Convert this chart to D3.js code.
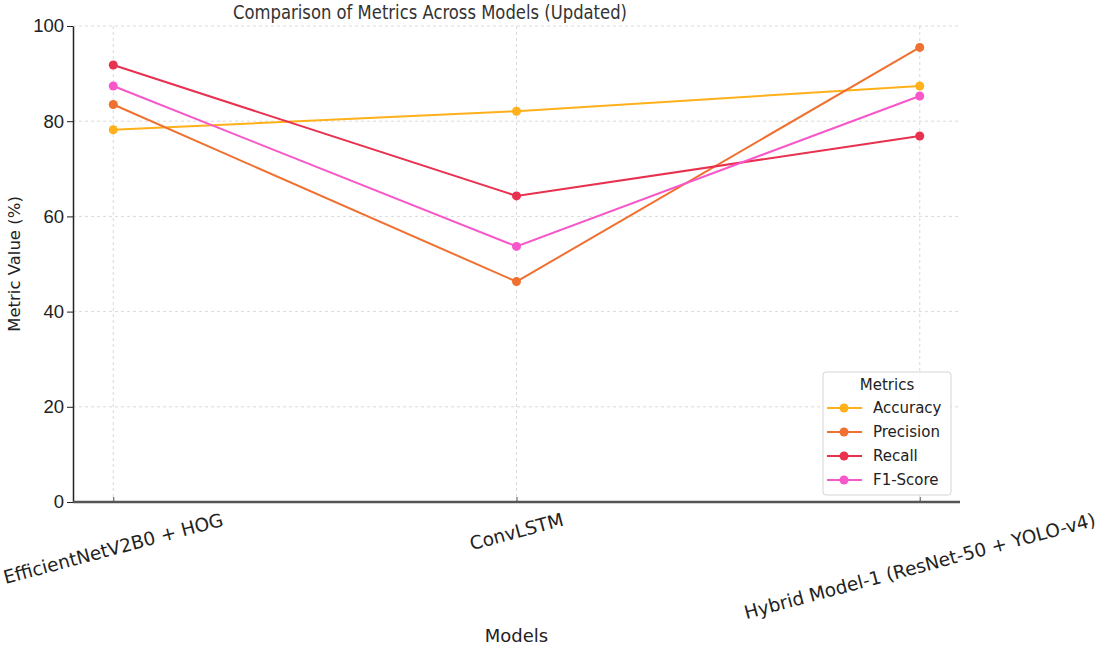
<!DOCTYPE html>
<html>
<head>
<meta charset="utf-8">
<title>Comparison of Metrics Across Models</title>
<script src="https://d3js.org/d3.v7.min.js"></script>
<style>
    body { margin: 0; background: #fff; }
    svg { display: block; font-family: "DejaVu Sans", sans-serif; }
    .grid line { stroke: #d0d0d0; stroke-dasharray: 3,3; stroke-width: 0.8; }
    .tick-label { fill: #222; }
</style>
</head>
<body>
<div id="chart"></div>
<script>
// data
const models = ['EfficientNetV2B0 + HOG', 'ConvLSTM', 'Hybrid Model-1 (ResNet-50 + YOLO-v4)'];
const metrics = ['Accuracy', 'Precision', 'Recall', 'F1-Score'];
const accuracy = [78.2, 82.1, 87.4];
const precision = [83.5, 46.3, 95.5];
const recall = [91.8, 64.3, 76.9];
const f1Score = [87.4, 53.7, 85.3];
const yTicks = [0, 20, 40, 60, 80, 100];
const colors = ['#ffb01a', '#f07030', '#e8304f', '#f757c8'];

const seriesValues = [accuracy, precision, recall, f1Score];

const width = 1099, height = 645;
const margin = { left: 73, right: 139, top: 26, bottom: 143 };
const plotW = width - margin.left - margin.right;
const plotH = height - margin.top - margin.bottom;

const svg = d3.select('#chart').append('svg')
    .attr('width', width)
    .attr('height', height);

// point scale with matplotlib-like 5% margins
const x = d3.scalePoint()
    .domain(models)
    .range([margin.left + plotW * 0.0454, margin.left + plotW * (1 - 0.0454)]);

const y = d3.scaleLinear()
    .domain([0, 100])
    .range([margin.top + plotH, margin.top]);

// grid
const grid = svg.append('g').attr('class', 'grid');
grid.selectAll('.hg').data(yTicks).enter().append('line')
    .attr('x1', margin.left).attr('x2', margin.left + plotW)
    .attr('y1', d => y(d)).attr('y2', d => y(d));
grid.selectAll('.vg').data(models).enter().append('line')
    .attr('x1', d => x(d)).attr('x2', d => x(d))
    .attr('y1', margin.top).attr('y2', margin.top + plotH);

// y axis
const yAxis = svg.append('g')
    .attr('transform', `translate(${margin.left},0)`)
    .call(d3.axisLeft(y).tickValues(yTicks).tickSize(6).tickPadding(3).tickSizeOuter(0));
yAxis.select('.domain').attr('stroke', '#222').attr('stroke-width', 1.5);
yAxis.selectAll('.tick line').attr('stroke', '#222');
yAxis.selectAll('.tick text').attr('class', 'tick-label').style('font-size', '18.5px')
    .attr('font-family', null);

// x axis
const xAxis = svg.append('g')
    .attr('transform', `translate(0,${margin.top + plotH})`)
    .call(d3.axisBottom(x).tickSize(-5).tickSizeOuter(0).tickFormat(''));
xAxis.select('.domain').attr('stroke', '#555').attr('stroke-width', 2.5)
    .attr('d', `M${margin.left},0H${margin.left + plotW}`);
xAxis.selectAll('.tick line').attr('stroke', '#555');

// rotated x tick labels, top of rotated box sits just under the axis
const angle = 15 * Math.PI / 180;
const xLabels = svg.append('g');
models.forEach(m => {
    const t = xLabels.append('text')
        .attr('class', 'tick-label')
        .style('font-size', '18.5px')
        .attr('text-anchor', 'middle')
        .attr('dominant-baseline', 'central')
        .text(m);
    const bb = t.node().getBBox();
    const rotH = bb.width * Math.sin(angle) + bb.height * Math.cos(angle);
    const cy = margin.top + plotH + 7 + rotH / 2;
    t.attr('transform', `translate(${x(m)},${cy}) rotate(-15)`);
});

// axis titles
svg.append('text')
    .attr('x', x(models[1])).attr('y', 642)
    .attr('text-anchor', 'middle')
    .style('font-size', '18px').attr('fill', '#222')
    .text('Models');

svg.append('text')
    .attr('transform', `translate(20,${margin.top + plotH / 2}) rotate(-90)`)
    .attr('text-anchor', 'middle')
    .style('font-size', '16.5px').attr('fill', '#222')
    .text('Metric Value (%)');

svg.append('text')
    .attr('x', 233).attr('y', 19)
    .attr('textLength', 394).attr('lengthAdjust', 'spacingAndGlyphs')
    .style('font-size', '20px').attr('fill', '#333')
    .text('Comparison of Metrics Across Models (Updated)');

// lines + markers
const line = d3.line()
    .x((d, i) => x(models[i]))
    .y(d => y(d));

seriesValues.forEach((vals, s) => {
    svg.append('path')
        .datum(vals)
        .attr('fill', 'none')
        .attr('stroke', colors[s])
        .attr('stroke-width', 2)
        .attr('d', line);
    svg.selectAll(null).data(vals).enter().append('circle')
        .attr('cx', (d, i) => x(models[i]))
        .attr('cy', d => y(d))
        .attr('r', 4.5)
        .attr('fill', colors[s]);
});

// legend
const lg = svg.append('g').attr('transform', 'translate(823,372)');
lg.append('rect')
    .attr('width', 128).attr('height', 123)
    .attr('rx', 3)
    .attr('fill', '#fff').attr('fill-opacity', 0.85)
    .attr('stroke', '#d5d5d5');
lg.append('text')
    .attr('x', 64).attr('y', 13)
    .attr('text-anchor', 'middle').attr('dominant-baseline', 'central')
    .style('font-size', '15px').attr('fill', '#222')
    .text('Metrics');
metrics.forEach((m, i) => {
    const row = lg.append('g').attr('transform', `translate(0,${36 + i * 24})`);
    row.append('line')
        .attr('x1', 4).attr('x2', 39)
        .attr('stroke', colors[i]).attr('stroke-width', 2);
    row.append('circle').attr('cx', 21).attr('r', 4.5).attr('fill', colors[i]);
    row.append('text')
        .attr('x', 50)
        .attr('dominant-baseline', 'central')
        .style('font-size', '15px').attr('fill', '#222')
        .text(m);
});
</script>
</body>
</html>
